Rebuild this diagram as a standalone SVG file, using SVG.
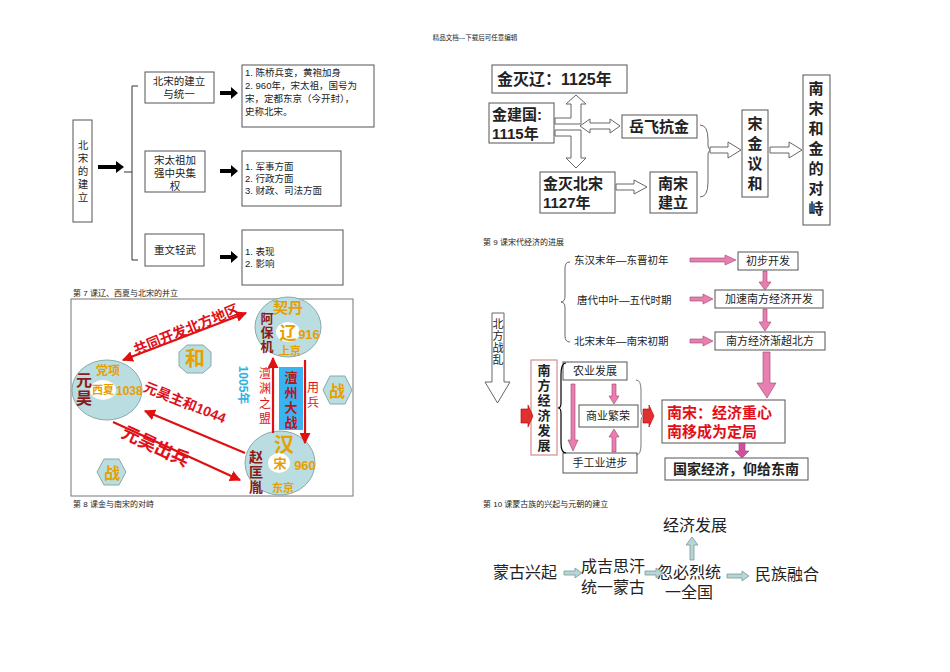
<svg xmlns="http://www.w3.org/2000/svg" width="950" height="672" viewBox="0 0 950 672">
<defs>
<style>
text{font-family:"Liberation Sans","Noto Sans CJK SC",sans-serif;fill:#222}
.b{fill:#fff;stroke:#555;stroke-width:1}
.t9{font-size:9.5px}
.t10{font-size:10.5px}
.cap{font-size:8px}
.bold{font-weight:bold}
.h{fill:#fff;stroke:#666;stroke-width:1}
.pk{fill:#e87fb0;stroke:#a04070;stroke-width:0.6}
.ell{fill:#b9dde0;stroke:#8aa;stroke-width:1}
.gold{fill:#e6a000;font-weight:bold}
.dr{fill:#8b1a1a;font-weight:bold}
.red{fill:#e0101a;font-weight:bold}
.rl{stroke:#e01010;stroke-width:2.2;fill:none}
.gb{fill:#b8d4d4;stroke:#7a9a9a;stroke-width:0.8}
.ka{fill:#000}
</style>
<marker id="ra" viewBox="0 0 10 10" refX="9" refY="5" markerWidth="5" markerHeight="5" orient="auto-start-reverse"><path d="M0,0L10,5L0,10z" fill="#e01010"/></marker>
</defs>
<rect width="950" height="672" fill="#fff"/>
<text x="475" y="40" class="cap" text-anchor="middle" style="font-size:6.5px">精品文档---下载后可任意编辑</text>

<!-- Section 1 -->
<g id="n-beisong">
<rect x="73" y="120" width="19" height="102" class="b"/>
<text class="t10" text-anchor="middle"><tspan x="83" y="149">北</tspan><tspan x="83" y="162">宋</tspan><tspan x="83" y="175">的</tspan><tspan x="83" y="188">建</tspan><tspan x="83" y="201">立</tspan></text>
</g>
<g id="n-s1"><rect x="145" y="72" width="69" height="31" class="b"/><text class="t10" text-anchor="middle"><tspan x="179" y="85">北宋的建立</tspan><tspan x="179" y="98">与统一</tspan></text></g>
<g id="n-s1d"><rect x="242" y="65" width="132" height="62" class="b"/><text class="t9"><tspan x="245" y="76">1. 陈桥兵变，黄袍加身</tspan><tspan x="245" y="89">2. 960年，宋太祖，国号为</tspan><tspan x="245" y="102">宋，定都东京（今开封），</tspan><tspan x="245" y="115">史称北宋。</tspan></text></g>
<g id="n-s2"><rect x="145" y="151" width="60" height="41" class="b"/><text class="t10" text-anchor="middle"><tspan x="175" y="164">宋太祖加</tspan><tspan x="175" y="177">强中央集</tspan><tspan x="175" y="190">权</tspan></text></g>
<g id="n-s2d"><rect x="242" y="151" width="99" height="55" class="b"/><text class="t9"><tspan x="245" y="170">1. 军事方面</tspan><tspan x="245" y="182">2. 行政方面</tspan><tspan x="245" y="194">3. 财政、司法方面</tspan></text></g>
<g id="n-s3"><rect x="145" y="234" width="59" height="32" class="b"/><text class="t10" x="175" y="254" text-anchor="middle">重文轻武</text></g>
<g id="n-s3d"><rect x="242" y="230" width="101" height="55" class="b"/><text class="t9"><tspan x="245" y="255">1. 表现</tspan><tspan x="245" y="267">2. 影响</tspan></text></g>
<g id="c-s1">
<path d="M98 165H116V161L124 167L116 173V169H98Z" class="ka"/>
<path d="M220 91H231V87L238 93L231 99V95H220Z" class="ka"/>
<path d="M220 169H231V165L238 171L231 177V173H220Z" class="ka"/>
<path d="M220 255H231V251L238 257L231 263V259H220Z" class="ka"/>
<path d="M138 86H132V260H138M124 172H132" stroke="#333" fill="none"/>
</g>
<text x="73" y="296" class="cap">第 7 课辽、西夏与北宋的并立</text>

<!-- Section 2 picture -->
<g id="pic">
<rect x="71" y="299" width="282" height="197" fill="#fff" stroke="#777"/>
<ellipse cx="288" cy="327" rx="33" ry="30" class="ell"/><ellipse cx="288" cy="332" rx="12" ry="10" fill="#fff"/>
<ellipse cx="107" cy="390" rx="35" ry="30" class="ell"/><ellipse cx="103" cy="390" rx="13" ry="10" fill="#fff"/>
<ellipse cx="280" cy="463" rx="35" ry="32" class="ell"/><ellipse cx="279" cy="463" rx="11" ry="10" fill="#fff"/>
<polygon points="187,345 203,345 211,352 211,366 203,373 187,373 179,366 179,352" class="ell"/>
<polygon points="323,390 330,376 345,376 352,390 345,404 330,404" class="ell"/>
<polygon points="97,472 104,459 119,459 126,472 119,485 104,485" class="ell"/>
<text x="195" y="366" class="gold" font-size="20" text-anchor="middle">和</text>
<text x="337" y="397" class="gold" font-size="16" text-anchor="middle">战</text>
<text x="112" y="479" class="gold" font-size="16" text-anchor="middle">战</text>
<text x="288" y="313" class="gold" font-size="15" text-anchor="middle">契丹</text>
<text x="288" y="339" class="gold" font-size="17" text-anchor="middle">辽</text>
<text x="309" y="339" class="gold" font-size="13" text-anchor="middle">916</text>
<text x="290" y="355" class="gold" font-size="11" text-anchor="middle">上京</text>
<text class="dr" font-size="13" text-anchor="middle"><tspan x="267" y="323">阿</tspan><tspan x="267" y="337">保</tspan><tspan x="267" y="351">机</tspan></text>
<text x="108" y="375" class="gold" font-size="12" text-anchor="middle">党项</text>
<text x="103" y="394" class="gold" font-size="11" text-anchor="middle">西夏</text>
<text x="116" y="395" class="gold" font-size="12">1038</text>
<text class="dr" font-size="16" text-anchor="middle"><tspan x="84" y="386">元</tspan><tspan x="84" y="404">昊</tspan></text>
<text x="284" y="452" class="gold" font-size="20" text-anchor="middle">汉</text>
<text x="280" y="468" class="gold" font-size="13" text-anchor="middle">宋</text>
<text x="305" y="470" class="gold" font-size="13" text-anchor="middle">960</text>
<text x="283" y="492" class="gold" font-size="11" text-anchor="middle">东京</text>
<text class="dr" font-size="14" text-anchor="middle"><tspan x="256" y="462">赵</tspan><tspan x="256" y="477">匡</tspan><tspan x="256" y="492">胤</tspan></text>
<rect x="279" y="367" width="24" height="63" fill="#3ab4f0"/>
<text class="red" font-size="13" text-anchor="middle" style="fill:#b01818"><tspan x="291" y="382">澶</tspan><tspan x="291" y="397">州</tspan><tspan x="291" y="412">大</tspan><tspan x="291" y="427">战</tspan></text>
<text class="red" font-size="12" text-anchor="middle" style="font-weight:normal"><tspan x="265" y="378">澶</tspan><tspan x="265" y="393">渊</tspan><tspan x="265" y="408">之</tspan><tspan x="265" y="423">盟</tspan></text>
<text class="red" font-size="12" text-anchor="middle" style="font-weight:normal"><tspan x="313" y="392">用</tspan><tspan x="313" y="407">兵</tspan></text>
<text transform="translate(239,385) rotate(90)" font-size="12" text-anchor="middle" style="fill:#30b0e0;font-weight:bold">1005年</text>
</g>
<g id="c-pic">
<path d="M123 360L246 313" class="rl" marker-start="url(#ra)" marker-end="url(#ra)"/>
<path d="M245 453L145 411" class="rl" marker-end="url(#ra)"/>
<path d="M113 422L240 480" class="rl" marker-end="url(#ra)"/>
<path d="M273 433V358" class="rl" marker-end="url(#ra)"/>
<path d="M305 360V443" class="rl" marker-end="url(#ra)"/>
</g>
<text transform="translate(188,334) rotate(-22)" class="red" font-size="14" text-anchor="middle">共同开发北方地区</text>
<text transform="translate(183,407) rotate(22)" class="red" font-size="14" text-anchor="middle">元昊主和1044</text>
<text transform="translate(153,452) rotate(25)" class="red" font-size="18" text-anchor="middle">元昊出兵</text>
<text x="73" y="507" class="cap">第 8 课金与南宋的对峙</text>

<!-- Section 3 -->
<g id="n-jmliao"><rect x="492" y="65" width="135" height="28" class="b"/><text x="497" y="85" class="bold" font-size="16">金灭辽：1125年</text></g>
<g id="n-jjg"><rect x="489" y="103" width="65" height="40" class="b"/><text class="bold" font-size="15"><tspan x="492" y="120">金建国:</tspan><tspan x="492" y="139">1115年</tspan></text></g>
<g id="n-yf"><rect x="622" y="115" width="75" height="23" class="b"/><text x="659" y="132" class="bold" font-size="15" text-anchor="middle">岳飞抗金</text></g>
<g id="n-jmbs"><rect x="540" y="172" width="75" height="41" class="b"/><text class="bold" font-size="15"><tspan x="543" y="189">金灭北宋</tspan><tspan x="543" y="208">1127年</tspan></text></g>
<g id="n-nsjl"><rect x="650" y="172" width="47" height="41" class="b"/><text class="bold" font-size="15" text-anchor="middle"><tspan x="673" y="189">南宋</tspan><tspan x="673" y="208">建立</tspan></text></g>
<g id="n-sjyh"><rect x="742" y="110" width="26" height="87" class="b"/><text class="bold" font-size="15" text-anchor="middle"><tspan x="755" y="129">宋</tspan><tspan x="755" y="149">金</tspan><tspan x="755" y="169">议</tspan><tspan x="755" y="189">和</tspan></text></g>
<g id="n-nsdz"><rect x="803" y="75" width="27" height="150" class="b"/><text class="bold" font-size="15" text-anchor="middle"><tspan x="816" y="94">南</tspan><tspan x="816" y="114">宋</tspan><tspan x="816" y="134">和</tspan><tspan x="816" y="154">金</tspan><tspan x="816" y="174">的</tspan><tspan x="816" y="194">对</tspan><tspan x="816" y="214">峙</tspan></text></g>
<g id="c-s3">
<path d="M555 118H571V104H566L576 95L586 104H581V124H555Z" class="h"/>
<path d="M580 126L590 119V123H610V119L620 126L610 133V129H590V133Z" class="h"/>
<path d="M555 130H581V158H586L576 168L566 158H571V136H555Z" class="h"/>
<path d="M616 184H634V180L647 187L634 194V190H616Z" class="h"/>
<path d="M700 125Q708 125 708 140V145Q708 150 712 150Q708 150 708 155V182Q708 197 700 197" fill="none" stroke="#666"/>
<path d="M710 147H728V142L741 150L728 158V153H710Z" class="h"/>
<path d="M770 147H789V142L802 150L789 158V153H770Z" class="h"/>
</g>
<text x="483" y="245" class="cap">第 9 课宋代经济的进展</text>

<!-- Section 4 -->
<g id="n-era">
<text x="574" y="264" class="t10" font-size="11">东汉末年—东晋初年</text>
<text x="577" y="304" class="t10" font-size="11">唐代中叶—五代时期</text>
<text x="574" y="345" class="t10" font-size="11">北宋末年—南宋初期</text>
<path d="M570 262Q565 262 565 268V296Q565 302 561 302Q565 302 565 308V336Q565 342 570 342" fill="none" stroke="#666"/>
</g>
<g id="n-cbkf"><rect x="738" y="252" width="60" height="18" class="b"/><text x="768" y="265" font-size="11" text-anchor="middle">初步开发</text></g>
<g id="n-js"><rect x="715" y="290" width="108" height="18" class="b"/><text x="769" y="303" font-size="11" text-anchor="middle">加速南方经济开发</text></g>
<g id="n-jc"><rect x="715" y="332" width="110" height="18" class="b"/><text x="770" y="345" font-size="11" text-anchor="middle">南方经济渐超北方</text></g>
<g id="n-bfzl"><path d="M492 313H504V382H510L497.5 403L485 382H492Z" class="h"/><text font-size="11" text-anchor="middle"><tspan x="498" y="328">北</tspan><tspan x="498" y="340">方</tspan><tspan x="498" y="352">战</tspan><tspan x="498" y="364">乱</tspan></text></g>
<g id="n-nfjj"><rect x="531" y="360" width="26" height="95" class="b" style="stroke:#c77"/><text class="bold" font-size="13" text-anchor="middle"><tspan x="544" y="375">南</tspan><tspan x="544" y="390">方</tspan><tspan x="544" y="405">经</tspan><tspan x="544" y="420">济</tspan><tspan x="544" y="435">发</tspan><tspan x="544" y="450">展</tspan></text></g>
<g id="n-ny"><rect x="563" y="362" width="64" height="18" class="b"/><text x="595" y="375" font-size="11" text-anchor="middle">农业发展</text></g>
<g id="n-sy"><rect x="579" y="405" width="59" height="22" class="b"/><text x="608" y="420" font-size="11" text-anchor="middle">商业繁荣</text></g>
<g id="n-sgy"><rect x="563" y="453" width="74" height="20" class="b"/><text x="600" y="467" font-size="11" text-anchor="middle">手工业进步</text></g>
<g id="n-ns"><rect x="662" y="400" width="123" height="43" class="b"/><text class="red" font-size="15"><tspan x="667" y="418">南宋：经济重心</tspan><tspan x="667" y="437">南移成为定局</tspan></text></g>
<g id="n-gj"><rect x="665" y="458" width="143" height="22" class="b"/><text x="736" y="474" class="bold" font-size="14" text-anchor="middle">国家经济，仰给东南</text></g>
<g id="c-s4">
<path d="M690 258H725V255L736 260L725 265V262H690Z" class="pk"/>
<path d="M690 297H703V294L713 299L703 304V301H690Z" class="pk"/>
<path d="M690 339H703V336L713 341L703 346V343H690Z" class="pk"/>
<path d="M763 271H767V282H771L765 290L759 282H763Z" class="pk"/>
<path d="M763 309H767V322H771L765 331L759 322H763Z" class="pk"/>
<path d="M763 352H770V383H776L767 398L757 383H763Z" class="pk"/>
<path d="M571 384H575V440H578L573 451L568 440H571Z" class="pk"/>
<path d="M612 384H616V396H619L614 404L609 396H612Z" class="pk"/>
<path d="M612 452H616V437H619L614 429L609 437H612Z" class="pk"/>
<path d="M739 443H745V451H749L742 458L735 451H739Z" class="pk" style="fill:#d050a0"/>
<path d="M521 409H528V405L533 416L528 427V423H521Z" fill="#e03030" stroke="#a00" stroke-width="0.6"/>
<path d="M643 409H649V405L654 416L649 427V423H643Z" fill="#e03030" stroke="#a00" stroke-width="0.6"/>
<path d="M566 363Q561 363 561 375V403Q561 408 558 408Q561 408 561 413V443Q561 453 566 453" fill="none" stroke="#000" stroke-width="1.2"/>
<path d="M636 380Q641 380 641 390V410Q641 416 644 416Q641 416 641 422V445Q641 455 636 455" fill="none" stroke="#777"/>
</g>
<text x="483" y="507" class="cap">第 10 课蒙古族的兴起与元朝的建立</text>

<!-- Section 5 -->
<g id="n-jjfz"><text x="695" y="531" font-size="16" text-anchor="middle">经济发展</text></g>
<g id="n-mgxq"><text x="525" y="578" font-size="16" text-anchor="middle">蒙古兴起</text></g>
<g id="n-cjsh"><text font-size="16" text-anchor="middle"><tspan x="613" y="572">成吉思汗</tspan><tspan x="613" y="593">统一蒙古</tspan></text></g>
<g id="n-hblt"><text font-size="16" text-anchor="middle"><tspan x="689" y="578">忽必烈统</tspan><tspan x="689" y="598">一全国</tspan></text></g>
<g id="n-mzrh"><text x="787" y="580" font-size="16" text-anchor="middle">民族融合</text></g>
<g id="c-s5">
<path d="M564 571H575V568L582 573L575 578V575H564Z" class="gb"/>
<path d="M645 571H656V568L663 573L656 578V575H645Z" class="gb"/>
<path d="M727 574H742V571L749 576L742 581V578H727Z" class="gb"/>
<path d="M690 560V545H686L692 537L698 545H694V560Z" class="gb"/>
</g>
</svg>
